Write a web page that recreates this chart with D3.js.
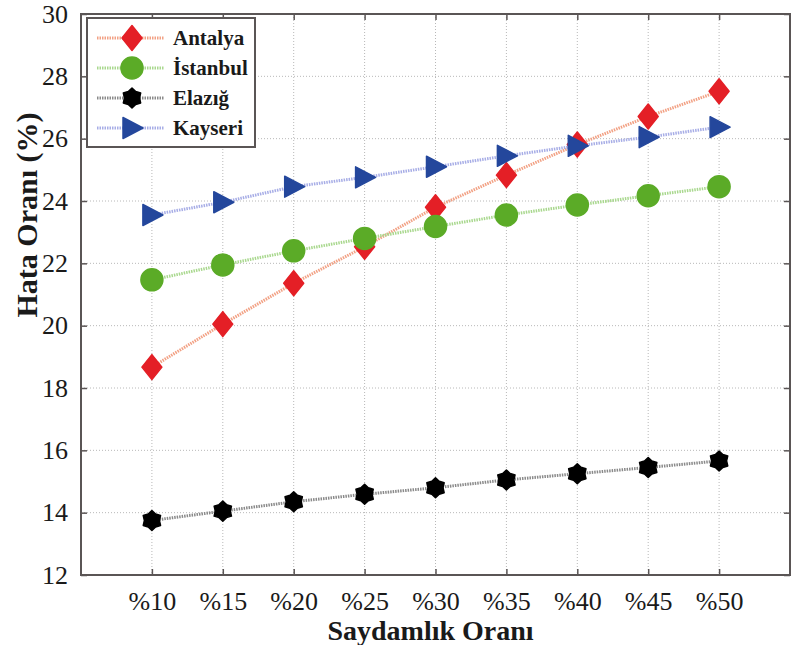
<!DOCTYPE html>
<html>
<head>
<meta charset="utf-8">
<script src="https://cdn.jsdelivr.net/npm/d3@7/dist/d3.min.js"></script>
<style>
  html, body { margin: 0; padding: 0; background: #fff; }
  svg { display: block; }
  text { font-family: "Liberation Serif", "Times New Roman", serif; fill: #1a1a1a; }
</style>
</head>
<body>
<svg id="chart" width="791" height="645"></svg>
<script>
// Transparency ratio (%) on the x axis
const ratios = [10, 15, 20, 25, 30, 35, 40, 45, 50];
const ratioLabels = ["%10", "%15", "%20", "%25", "%30", "%35", "%40", "%45", "%50"];
const yTicks = [12, 14, 16, 18, 20, 22, 24, 26, 28, 30];

// Error rate (%) per city
const antalya  = [18.67, 20.05, 21.36, 22.53, 23.80, 24.83, 25.81, 26.71, 27.52];
const istanbul = [21.47, 21.95, 22.40, 22.80, 23.18, 23.55, 23.87, 24.17, 24.46];
const elazig   = [13.75, 14.05, 14.35, 14.59, 14.80, 15.05, 15.25, 15.45, 15.66];
const kayseri  = [23.55, 23.96, 24.46, 24.76, 25.10, 25.45, 25.77, 26.05, 26.37];

const cityNames = ["Antalya", "İstanbul", "Elazığ", "Kayseri"];

const series = [
  { name: cityNames[0], values: antalya,  line: "#f2a184", fill: "#e41f26", marker: "diamond" },
  { name: cityNames[1], values: istanbul, line: "#a9d88e", fill: "#5bab27", marker: "circle" },
  { name: cityNames[2], values: elazig,   line: "#8a8a8a", fill: "#000000", marker: "hexagram" },
  { name: cityNames[3], values: kayseri,  line: "#a7ade6", fill: "#24479c", marker: "triangle" }
];

const svg = d3.select("#chart");
const plotL = 81, plotR = 790, plotT = 14, plotB = 575;

const x = d3.scaleLinear().domain([5, 55]).range([plotL, plotR]);
const y = d3.scaleLinear().domain([12, 30]).range([plotB, plotT]);

// dotted grid
const grid = svg.append("g");
grid.selectAll("line.gx").data(ratios).join("line")
  .attr("x1", d => x(d)).attr("x2", d => x(d))
  .attr("y1", plotT).attr("y2", plotB)
  .attr("stroke", "#b8b8b8").attr("stroke-width", 1).attr("stroke-dasharray", "1,2");
grid.selectAll("line.gy").data(yTicks.slice(1, -1)).join("line")
  .attr("x1", plotL).attr("x2", plotR)
  .attr("y1", d => y(d)).attr("y2", d => y(d))
  .attr("stroke", "#b8b8b8").attr("stroke-width", 1).attr("stroke-dasharray", "1,2");

// axes (ticks pointing inward, mirrored on top and right)
const axisColor = "#5a5555";
const tickLen = 6;
const xAxisB = d3.axisBottom(x).tickValues(ratios).tickSize(-tickLen)
  .tickFormat((d, i) => ratioLabels[i]).tickPadding(17);
const xAxisT = d3.axisTop(x).tickValues(ratios).tickSize(-tickLen).tickFormat("");
const yAxisL = d3.axisLeft(y).tickValues(yTicks).tickSize(-tickLen).tickPadding(13)
  .tickFormat(d3.format("d"));
const yAxisR = d3.axisRight(y).tickValues(yTicks).tickSize(-tickLen).tickFormat("");

function styleAxis(g) {
  g.attr("font-family", null);
  g.select(".domain").remove();
  g.selectAll(".tick line").attr("stroke", axisColor).attr("stroke-width", 1.5);
  g.selectAll(".tick text")
    .style("font-family", "'Liberation Serif', serif")
    .attr("font-size", 26).attr("fill", "#1a1a1a");
}
svg.append("g").attr("transform", `translate(0,${plotB})`).call(xAxisB).call(styleAxis);
svg.append("g").attr("transform", `translate(0,${plotT})`).call(xAxisT).call(styleAxis);
svg.append("g").attr("transform", `translate(${plotL},0)`).call(yAxisL).call(styleAxis);
svg.append("g").attr("transform", `translate(${plotR},0)`).call(yAxisR).call(styleAxis);

// plot frame
svg.append("rect")
  .attr("x", plotL).attr("y", plotT).attr("width", plotR - plotL).attr("height", plotB - plotT)
  .attr("fill", "none").attr("stroke", axisColor).attr("stroke-width", 2);

// marker shapes
function markerPath(kind) {
  if (kind === "diamond") {
    return "M0,-12.5L10,0L0,12.5L-10,0Z";
  }
  if (kind === "triangle") {
    return "M-9,-10.5L11,0L-9,10.5Z";
  }
  if (kind === "hexagram") {
    const pts = [];
    for (let k = 0; k < 12; k++) {
      const r = k % 2 === 0 ? 10 : 7.5;
      const a = -Math.PI / 2 + k * Math.PI / 6;
      pts.push([r * Math.cos(a), r * Math.sin(a)]);
    }
    return "M" + pts.map(p => p.join(",")).join("L") + "Z";
  }
  return d3.arc()({ innerRadius: 0, outerRadius: 11, startAngle: 0, endAngle: 2 * Math.PI });
}

const line = d3.line().x((d, i) => x(ratios[i])).y(d => y(d));

const plot = svg.append("g");
series.forEach(s => {
  plot.append("path")
    .attr("d", line(s.values))
    .attr("fill", "none").attr("stroke", s.line).attr("stroke-width", 3)
    .attr("stroke-dasharray", "1.5,1");
});
series.forEach(s => {
  plot.selectAll(null).data(s.values).join("path")
    .attr("transform", (d, i) => `translate(${x(ratios[i])},${y(d)})`)
    .attr("d", markerPath(s.marker))
    .attr("fill", s.fill).attr("stroke", s.fill).attr("stroke-width", 1.5)
    .attr("stroke-linejoin", "round");
});

// legend
const legend = svg.append("g");
legend.append("rect")
  .attr("x", 87).attr("y", 18).attr("width", 168).attr("height", 129)
  .attr("fill", "#fff").attr("stroke", axisColor).attr("stroke-width", 2);
series.forEach((s, i) => {
  const ly = 38 + i * 30;
  legend.append("line")
    .attr("x1", 97).attr("x2", 164).attr("y1", ly).attr("y2", ly)
    .attr("stroke", s.line).attr("stroke-width", 3).attr("stroke-dasharray", "1.5,1");
  legend.append("path")
    .attr("transform", `translate(132,${ly})`)
    .attr("d", markerPath(s.marker))
    .attr("fill", s.fill).attr("stroke", s.fill).attr("stroke-width", 1.5)
    .attr("stroke-linejoin", "round");
  legend.append("text")
    .attr("x", 173).attr("y", ly + 7)
    .attr("font-size", 21).attr("font-weight", "bold")
    .text(s.name);
});

// axis titles
svg.append("text")
  .attr("x", (plotL + plotR) / 2 - 5).attr("y", 640)
  .attr("text-anchor", "middle").attr("font-size", 28).attr("font-weight", "bold")
  .text("Saydamlık Oranı");
svg.append("text")
  .attr("transform", "translate(37,215) rotate(-90)")
  .attr("text-anchor", "middle").attr("font-size", 30).attr("font-weight", "bold")
  .text("Hata Oranı (%)");
</script>
</body>
</html>
